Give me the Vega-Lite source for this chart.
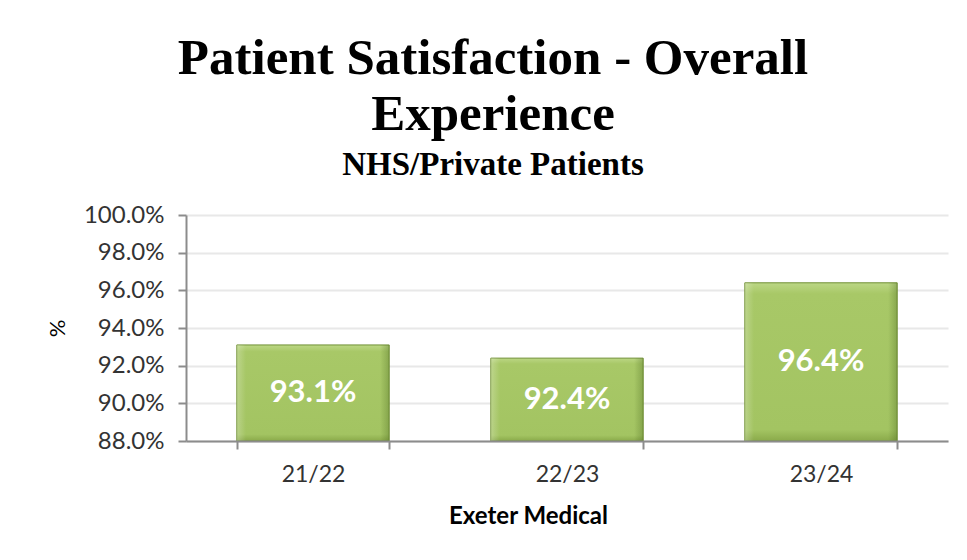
{
  "$schema": "https://vega.github.io/schema/vega-lite/v6.json",
  "autosize": "none",
  "width": 762,
  "height": 226,
  "padding": {"left": 186, "top": 215, "right": 19, "bottom": 119},
  "background": "white",
  "title": {
    "text": ["Patient Satisfaction  - Overall", "Experience"],
    "subtitle": "NHS/Private Patients",
    "anchor": "middle",
    "frame": "group",
    "dx": -74,
    "offset": 20,
    "font": "Liberation Serif",
    "fontWeight": "bold",
    "fontSize": 51,
    "lineHeight": 56,
    "color": "black",
    "subtitleFont": "Liberation Serif",
    "subtitleFontWeight": "bold",
    "subtitleFontSize": 33,
    "subtitleColor": "black",
    "subtitlePadding": 8
  },
  "data": {
    "values": [
      {"year": "21/22", "value": 0.931},
      {"year": "22/23", "value": 0.924},
      {"year": "23/24", "value": 0.964}
    ]
  },
  "config": {
    "view": {"stroke": null},
    "axis": {
      "labelFont": "Lato",
      "titleFont": "Lato",
      "labelColor": "#333333",
      "titleColor": "black",
      "domainColor": "#8c8c8c",
      "domainWidth": 2,
      "tickColor": "#8c8c8c",
      "tickWidth": 2,
      "gridColor": "#e8e8e8",
      "gridWidth": 2,
      "labelOverlap": false
    }
  },
  "encoding": {
    "x": {
      "field": "year",
      "type": "nominal",
      "sort": null,
      "scale": {"paddingInner": 0.4, "paddingOuter": 0.2},
      "axis": {
        "title": "Exeter Medical",
        "titleFontSize": 24,
        "titleFontWeight": "bold",
        "titlePadding": 18,
        "titleX": 342,
        "labelAngle": 0,
        "labelFontSize": 23,
        "labelPadding": 14,
        "tickBand": "extent",
        "tickSize": 8,
        "grid": false,
        "zindex": 1
      }
    },
    "y": {
      "type": "quantitative",
      "scale": {"domain": [0.88, 1.0], "zero": false, "nice": false},
      "axis": {
        "title": "%",
        "titleFontSize": 22,
        "titleFontWeight": "normal",
        "titlePadding": 14,
        "format": ".1%",
        "values": [0.88, 0.9, 0.92, 0.94, 0.96, 0.98, 1.0],
        "tickCount": 7,
        "labelFontSize": 24,
        "labelPadding": 14,
        "tickSize": 8
      }
    }
  },
  "layer": [
    {
      "mark": {
        "type": "bar",
        "stroke": "#6f8f32",
        "strokeWidth": 1,
        "color": {
          "gradient": "linear",
          "x1": 0, "y1": 0, "x2": 0, "y2": 1,
          "stops": [
            {"offset": 0, "color": "#bcd785"},
            {"offset": 0.07, "color": "#a8c867"},
            {"offset": 0.93, "color": "#a3c462"},
            {"offset": 1, "color": "#8aaa4a"}
          ]
        }
      },
      "encoding": {
        "y": {"field": "value"},
        "y2": {"datum": 0.88}
      }
    },
    {
      "mark": {
        "type": "bar",
        "strokeWidth": 0,
        "color": {
          "gradient": "linear",
          "x1": 0, "y1": 0, "x2": 1, "y2": 0,
          "stops": [
            {"offset": 0, "color": "rgba(255,255,255,0.25)"},
            {"offset": 0.06, "color": "rgba(255,255,255,0)"},
            {"offset": 0.94, "color": "rgba(60,90,20,0)"},
            {"offset": 1, "color": "rgba(60,90,20,0.3)"}
          ]
        }
      },
      "encoding": {
        "y": {"field": "value"},
        "y2": {"datum": 0.88}
      }
    },
    {
      "transform": [{"calculate": "(datum.value + 0.88) / 2", "as": "mid"}],
      "mark": {
        "type": "text",
        "font": "Lato",
        "fontWeight": "bold",
        "fontSize": 31,
        "color": "white",
        "baseline": "middle",
        "align": "center"
      },
      "encoding": {
        "y": {"field": "mid"},
        "text": {"field": "value", "type": "quantitative", "format": ".1%"}
      }
    }
  ]
}
